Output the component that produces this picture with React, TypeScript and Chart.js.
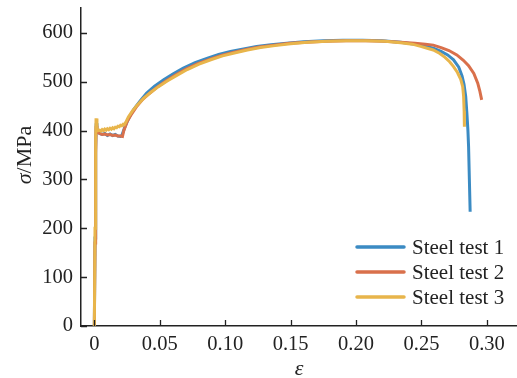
import { useEffect, useRef } from "react";
import { Chart, registerables } from "chart.js";

Chart.register(...registerables);

// Engineering strain / stress readings for the three tensile tests
const strain1 = [0, 0.0005, 0.001, 0.0014, 0.002, 0.004, 0.006, 0.008, 0.010, 0.012, 0.014, 0.016, 0.018, 0.020, 0.021, 0.023, 0.026, 0.030, 0.035, 0.040, 0.046, 0.053, 0.060, 0.068, 0.077, 0.086, 0.095, 0.104, 0.114, 0.124, 0.135, 0.147, 0.160, 0.175, 0.190, 0.205, 0.220, 0.234, 0.245, 0.253, 0.259, 0.265, 0.270, 0.2745, 0.2785, 0.2810, 0.2825, 0.2838, 0.2847, 0.2855, 0.2860, 0.2866, 0.2872];
const stress1 = [0, 180, 360, 415, 400, 394, 392, 394, 390, 393, 390, 392, 389, 388, 390, 405, 424, 443, 461, 477, 491, 504, 516, 528, 539, 548, 556, 562, 567, 572, 576, 579, 582, 584, 585, 585, 584, 581, 577, 573, 569, 562, 555, 545, 530, 512, 495, 470, 436, 400, 367, 300, 234];

const strain2 = [0, 0.0005, 0.001, 0.0014, 0.002, 0.004, 0.006, 0.008, 0.010, 0.012, 0.014, 0.016, 0.018, 0.020, 0.0215, 0.0225, 0.025, 0.028, 0.032, 0.037, 0.042, 0.048, 0.055, 0.062, 0.070, 0.079, 0.088, 0.097, 0.106, 0.116, 0.126, 0.137, 0.149, 0.162, 0.177, 0.192, 0.207, 0.222, 0.234, 0.245, 0.253, 0.259, 0.265, 0.271, 0.277, 0.282, 0.286, 0.290, 0.293, 0.2945, 0.296];
const stress2 = [0, 170, 350, 410, 398, 394, 392, 393, 391, 392, 390, 391, 389, 389, 388, 400, 418, 432, 448, 464, 476, 489, 502, 514, 526, 537, 546, 554, 560, 566, 571, 575, 579, 581, 583, 584, 584, 583, 581, 579, 577, 575, 570, 564, 555, 544, 533, 517, 497, 482, 463];

const strain3 = [0, 0.0005, 0.001, 0.0013, 0.002, 0.003, 0.004, 0.005, 0.006, 0.007, 0.008, 0.009, 0.010, 0.011, 0.012, 0.013, 0.014, 0.015, 0.016, 0.017, 0.018, 0.019, 0.020, 0.021, 0.022, 0.023, 0.024, 0.026, 0.029, 0.033, 0.038, 0.043, 0.049, 0.056, 0.063, 0.071, 0.080, 0.089, 0.098, 0.107, 0.117, 0.127, 0.138, 0.150, 0.163, 0.178, 0.193, 0.208, 0.222, 0.234, 0.243, 0.250, 0.255, 0.259, 0.264, 0.268, 0.2715, 0.2745, 0.2775, 0.280, 0.2815, 0.2822, 0.2826, 0.2828];
const stress3 = [0, 200, 380, 425, 404, 400, 401, 399, 402, 400, 403, 401, 404, 402, 405, 403, 406, 404, 407, 406, 409, 408, 411, 410, 413, 412, 417, 428, 440, 453, 467, 478, 490, 502, 513, 525, 536, 545, 553, 559, 565, 570, 574, 578, 581, 583, 584, 584, 583, 580, 577, 572, 568, 565, 558, 550, 541, 531, 519, 505, 490, 470, 440, 408];

const seriesLabels = ["Steel test 1", "Steel test 2", "Steel test 3"];
const seriesColors = ["#3b8bc3", "#d9704b", "#e8b54b"];

const xTickValues = [0, 0.05, 0.1, 0.15, 0.2, 0.25, 0.3];
const yTickValues = [0, 100, 200, 300, 400, 500, 600];

const SERIF = "'Liberation Serif', 'Times New Roman', serif";
const INK = "#222222";

const zip = (xs: number[], ys: number[]) => xs.map((x, i) => ({ x, y: ys[i] }));

// Inward tick marks, axis titles and the in-plot legend
const decorPlugin = {
  id: "decor",
  afterDraw(chart: any) {
    const ctx: CanvasRenderingContext2D = chart.ctx;
    const xs = chart.scales.x;
    const ys = chart.scales.y;
    const area = chart.chartArea;
    ctx.save();

    ctx.strokeStyle = INK;
    ctx.lineWidth = 1.3;
    ctx.beginPath();
    xs.ticks.forEach((t: any) => {
      const px = Math.round(xs.getPixelForValue(t.value)) + 0.5;
      ctx.moveTo(px, area.bottom);
      ctx.lineTo(px, area.bottom - 6);
    });
    ys.ticks.forEach((t: any) => {
      const py = Math.round(ys.getPixelForValue(t.value)) + 0.5;
      ctx.moveTo(area.left, py);
      ctx.lineTo(area.left + 6, py);
    });
    ctx.stroke();

    ctx.fillStyle = INK;
    ctx.textBaseline = "middle";

    // x title
    ctx.font = `italic 22px ${SERIF}`;
    ctx.textAlign = "center";
    ctx.fillText("ε", (area.left + area.right) / 2, 369);

    // y title
    ctx.save();
    ctx.translate(25, 155);
    ctx.rotate(-Math.PI / 2);
    ctx.textAlign = "left";
    ctx.font = `italic 22px ${SERIF}`;
    const sym = "σ";
    const symW = ctx.measureText(sym).width;
    ctx.font = `22px ${SERIF}`;
    const unit = "/MPa";
    const unitW = ctx.measureText(unit).width;
    const startX = -(symW + unitW) / 2;
    ctx.font = `italic 22px ${SERIF}`;
    ctx.fillText(sym, startX, 0);
    ctx.font = `22px ${SERIF}`;
    ctx.fillText(unit, startX + symW, 0);
    ctx.restore();

    // legend
    ctx.font = `21px ${SERIF}`;
    ctx.textAlign = "left";
    ctx.lineCap = "round";
    chart.data.datasets.forEach((ds: any, i: number) => {
      const rowY = 247 + i * 25;
      ctx.strokeStyle = ds.borderColor;
      ctx.lineWidth = 3.5;
      ctx.beginPath();
      ctx.moveTo(357, rowY);
      ctx.lineTo(404, rowY);
      ctx.stroke();
      ctx.fillStyle = INK;
      ctx.fillText(ds.label, 412, rowY + 1);
    });

    ctx.restore();
  },
};

export default function App() {
  const canvasRef = useRef<HTMLCanvasElement | null>(null);

  useEffect(() => {
    if (!canvasRef.current) return;
    const strains = [strain1, strain2, strain3];
    const stresses = [stress1, stress2, stress3];
    const drawOrder = [2, 1, 0];

    const chart = new Chart(canvasRef.current, {
      type: "scatter",
      data: {
        datasets: seriesLabels.map((label, i) => ({
          label,
          data: zip(strains[i], stresses[i]),
          borderColor: seriesColors[i],
          backgroundColor: seriesColors[i],
          borderWidth: 3,
          showLine: true,
          pointRadius: 0,
          tension: 0,
          order: drawOrder[i],
        })),
      },
      options: {
        animation: false,
        responsive: true,
        maintainAspectRatio: false,
        layout: { padding: { top: 8, right: 0, bottom: 0, left: 0 } },
        plugins: {
          legend: { display: false },
          tooltip: { enabled: false },
        },
        scales: {
          x: {
            type: "linear",
            min: -0.0102,
            max: 0.323,
            grid: { display: false, drawTicks: false },
            border: { display: true, color: INK, width: 1.5 },
            afterBuildTicks: (scale: any) => {
              scale.ticks = xTickValues.map((v) => ({ value: v }));
            },
            afterFit: (scale: any) => {
              scale.height = 52;
            },
            ticks: {
              padding: 6,
              color: INK,
              font: { family: SERIF, size: 20.5 },
              maxRotation: 0,
              callback: (v: any) => (Number(v) === 0 ? "0" : Number(v).toFixed(2)),
            },
          },
          y: {
            type: "linear",
            min: 0,
            max: 651,
            grid: { display: false, drawTicks: false },
            border: { display: true, color: INK, width: 1.5 },
            afterBuildTicks: (scale: any) => {
              scale.ticks = yTickValues.map((v) => ({ value: v }));
            },
            afterFit: (scale: any) => {
              scale.width = 81;
              scale.paddingTop = 0;
              scale.paddingBottom = 0;
            },
            ticks: {
              padding: 8,
              color: INK,
              font: { family: SERIF, size: 20.5 },
              callback: (v: any) => String(v),
            },
          },
        },
      },
      plugins: [decorPlugin],
    });

    return () => chart.destroy();
  }, []);

  return (
    <div style={{ position: "fixed", left: 0, top: 0, width: 517, height: 378, background: "#ffffff" }}>
      <canvas ref={canvasRef} />
    </div>
  );
}
